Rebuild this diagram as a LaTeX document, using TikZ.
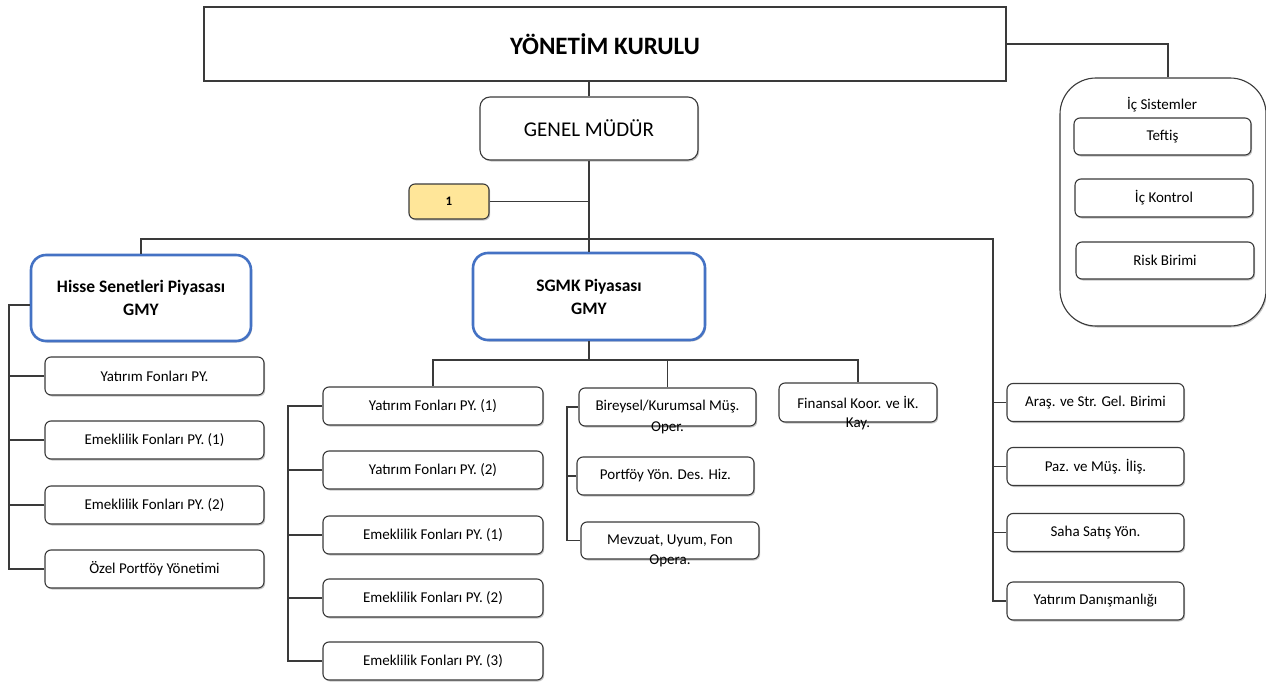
\documentclass[tikz,border=0pt]{standalone}
\usepackage{fontspec}
\setmainfont{Carlito}
\usepackage{xcolor}
\usepackage{tikz}
\usetikzlibrary{calc, shadows}

\definecolor{cizgi}{HTML}{3A3A3A}
\definecolor{gmymavi}{HTML}{4472C4}
\definecolor{sarikutu}{HTML}{FFE699}

\begin{document}
\begin{tikzpicture}[x=1pt, y=-1pt, >=latex]
		\tikzstyle{golge} = [drop shadow={shadow xshift=1.2pt, shadow yshift=-1.5pt, fill=black!50, opacity=0.45}]
		\tikzstyle{kutu} = [draw=cizgi, line width=1.1pt, fill=white, rounded corners=6pt, inner sep=0pt, align=center, font=\fontsize{15pt}{18pt}\selectfont, golge]
		\tikzstyle{yk} = [kutu, rounded corners=0pt, font=\bfseries\fontsize{25pt}{29pt}\selectfont]
		\tikzstyle{gmkutu} = [kutu, rounded corners=10pt, font=\fontsize{21pt}{24pt}\selectfont]
		\tikzstyle{gmy} = [kutu, draw=gmymavi, line width=2.6pt, rounded corners=15pt, font=\bfseries\fontsize{17.5pt}{23pt}\selectfont, drop shadow={shadow xshift=0pt, shadow yshift=0pt, opacity=0}]
		\tikzstyle{icsis} = [kutu, rounded corners=36pt, drop shadow={shadow xshift=0pt, shadow yshift=0pt, opacity=0}]
		\tikzstyle{sari} = [kutu, fill=sarikutu, font=\bfseries\fontsize{13pt}{15pt}\selectfont]
		\tikzstyle{tasan} = [anchor=center, yshift=-1pt, inner sep=0pt, font=\fontsize{15pt}{18pt}\selectfont]
		\tikzstyle{hat} = [draw=cizgi, line width=1.1pt]

		\useasboundingbox (0,0) rectangle (1266,682);

		% ust kisim
		\node[yk, minimum width=802, minimum height=74] at (605,44) (yk) {YÖNETİM KURULU};
		\node[icsis, minimum width=206, minimum height=248] at (1163,202) (ics) {};
		\node[font=\fontsize{15pt}{18pt}\selectfont] at (1162,105) (icsbaslik) {İç Sistemler};
		\node[kutu, minimum width=177, minimum height=37] at (1162.5,136.5) (teftis) {Teftiş};
		\node[kutu, minimum width=178, minimum height=38] at (1164,198) (ickontrol) {İç Kontrol};
		\node[kutu, minimum width=178, minimum height=37] at (1165,260.5) (risk) {Risk Birimi};
		\node[gmkutu, minimum width=218, minimum height=63] at (589,128.5) (gm) {GENEL MÜDÜR};
		\node[sari, minimum width=80, minimum height=35] at (449,201.5) (bir) {1};
		\coordinate (hub) at (589,239);
		\coordinate (sag) at (993,239);

		% GMY kutulari
		\node[gmy, minimum width=220, minimum height=86] at (141,298) (hisse) {Hisse Senetleri Piyasası\\GMY};
		\node[gmy, minimum width=232, minimum height=87] at (589,296.5) (sgmk) {SGMK Piyasası\\GMY};

		% hisse alt birimleri
		\coordinate (hsol) at (9,0);
		\node[kutu, minimum width=219, minimum height=38] at (154.5,376) (hc1) {Yatırım Fonları PY.};
		\node[kutu, minimum width=219, minimum height=38] at (154.5,440) (hc2) {Emeklilik Fonları PY. (1)};
		\node[kutu, minimum width=219, minimum height=38] at (154.5,505) (hc3) {Emeklilik Fonları PY. (2)};
		\node[kutu, minimum width=219, minimum height=38] at (154.5,569) (hc4) {Özel Portföy Yönetimi};

		% sgmk alt birimleri
		\coordinate (ssol) at (288,0);
		\coordinate (bsol) at (567,0);
		\coordinate (sbus) at (589,360);
		\node[kutu, minimum width=220, minimum height=38] at (433,406) (sc1) {Yatırım Fonları PY. (1)};
		\node[kutu, minimum width=220, minimum height=38] at (433,470) (sc2) {Yatırım Fonları PY. (2)};
		\node[kutu, minimum width=220, minimum height=38] at (433,535) (sc3) {Emeklilik Fonları PY. (1)};
		\node[kutu, minimum width=220, minimum height=38] at (433,598) (sc4) {Emeklilik Fonları PY. (2)};
		\node[kutu, minimum width=220, minimum height=38] at (433,661) (sc5) {Emeklilik Fonları PY. (3)};
		\node[kutu, minimum width=177, minimum height=38, label={[tasan]south:Oper.}] at (667.5,407) (bireysel) {Bireysel/Kurumsal Müş.};
		\node[kutu, minimum width=177, minimum height=38] at (665.5,476) (portfoy) {Portföy Yön. Des. Hiz.};
		\node[kutu, minimum width=178, minimum height=37, label={[tasan]south:Opera.}] at (670,540.5) (mevzuat) {Mevzuat, Uyum, Fon};
		\node[kutu, minimum width=158, minimum height=39, label={[tasan]south:Kay.}] at (858,402.5) (finansal) {Finansal Koor. ve İK.};

		% sag kol
		\node[kutu, minimum width=177, minimum height=38] at (1095.5,402.5) (rc1) {Araş. ve Str. Gel. Birimi};
		\node[kutu, minimum width=177, minimum height=38] at (1095.5,466.5) (rc2) {Paz. ve Müş. İliş.};
		\node[kutu, minimum width=177, minimum height=38] at (1095.5,532.5) (rc3) {Saha Satış Yön.};
		\node[kutu, minimum width=177, minimum height=38] at (1095.5,601) (rc4) {Yatırım Danışmanlığı};

		% baglantilar
		\path[hat]
		(yk.east) -| ([xshift=5pt]ics.north)
		(gm.north) -- (gm.north |- yk.south)
		(gm.south) -- (hub)
		(bir.east) -- (bir.east -| hub)
		(hisse.north) |- (sag) -- (sag |- rc4.west) -- (rc4.west)
		(hub) -- (sgmk.north)
		([yshift=-7pt]hisse.west) -| (hc4.west -| hsol) -- (hc4.west)
		(sgmk.south) -- (sbus)
		(sc1.north) |- (sbus) -| (finansal.north)
		(bireysel.north) -- (bireysel.north |- sbus)
		(sc1.west) -- (sc1.west -| ssol) |- (sc5.west)
		(bireysel.west) -- (bireysel.west -| bsol) |- (mevzuat.west)
		(portfoy.west) -- (portfoy.west -| bsol);
		\foreach \i in {1,2,3} {
			\draw[hat] (hc\i.west) -- (hc\i.west -| hsol);
			\draw[hat] (rc\i.west) -- (rc\i.west -| sag);
		}
		\foreach \i in {2,3,4} {
			\draw[hat] (sc\i.west) -- (sc\i.west -| ssol);
		}
	\end{tikzpicture}
\end{document}
